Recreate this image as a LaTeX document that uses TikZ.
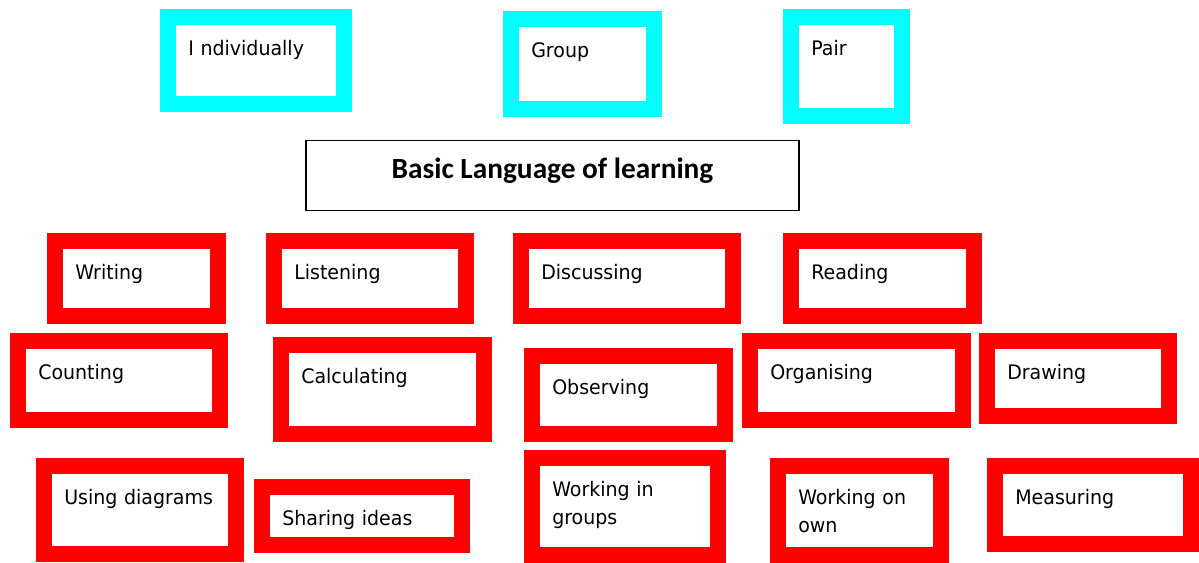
\documentclass[tikz,border=0pt]{standalone}
\usepackage{fontspec}
\setmainfont{DejaVu Sans}[FakeStretch=0.95]
\newfontfamily\titlefont{Carlito}
\usepackage{tikz}
\usetikzlibrary{positioning}
\definecolor{tilered}{RGB}{255,0,0}
\definecolor{tilecyan}{RGB}{0,255,255}
\newlength\px
\setlength\px{0.75pt}

\begin{document}
\begin{tikzpicture}[x=1\px, y=-1\px,
    tile/.style={anchor=north west, line width=16\px, inner sep=0pt},
    redtile/.style={tile, draw=tilered},
    cyantile/.style={tile, draw=tilecyan},
    word/.style={inner sep=0pt, align=left, text width=160\px, text height=11pt,
                 font=\fontsize{15}{21}\selectfont},
    titlebox/.style={draw, line width=1.5\px, minimum width=493\px,
                     minimum height=70\px, text height=12pt, text depth=8pt,
                     font=\titlefont\bfseries\fontsize{22}{26}\selectfont},
]
    \path[use as bounding box, fill=white] (0,0) rectangle (1199,563);

    % ways of working
    \node[cyantile, minimum width=176\px, minimum height=87\px] (individually) at (160,9) {};
    \node[word, below right=32\px and 28\px of individually.north west] (individually text) {I ndividually};
    \node[cyantile, minimum width=143\px, minimum height=90\px] (group) at (503,11) {};
    \node[word, below right=32\px and 28\px of group.north west] (group text) {Group};
    \node[cyantile, minimum width=111\px, minimum height=99\px] (pair) at (783,9) {};
    \node[word, below right=32\px and 28\px of pair.north west] (pair text) {Pair};

    \node[titlebox] (title) at (552.5,175.5) {Basic Language of learning};

    % first row
    \node[redtile, minimum width=163\px, minimum height=75\px] (writing) at (47,233) {};
    \node[word, below right=32\px and 28\px of writing.north west] (writing text) {Writing};
    \node[redtile, minimum width=192\px, minimum height=75\px] (listening) at (266,233) {};
    \node[word, below right=32\px and 28\px of listening.north west] (listening text) {Listening};
    \node[redtile, minimum width=212\px, minimum height=75\px] (discussing) at (513,233) {};
    \node[word, below right=32\px and 28\px of discussing.north west] (discussing text) {Discussing};
    \node[redtile, minimum width=183\px, minimum height=75\px] (reading) at (783,233) {};
    \node[word, below right=32\px and 28\px of reading.north west] (reading text) {Reading};

    % second row
    \node[redtile, minimum width=202\px, minimum height=79\px] (counting) at (10,333) {};
    \node[word, below right=32\px and 28\px of counting.north west] (counting text) {Counting};
    \node[redtile, minimum width=203\px, minimum height=89\px] (calculating) at (273,337) {};
    \node[word, below right=32\px and 28\px of calculating.north west] (calculating text) {Calculating};
    \node[redtile, minimum width=193\px, minimum height=78\px] (observing) at (524,348) {};
    \node[word, below right=32\px and 28\px of observing.north west] (observing text) {Observing};
    \node[redtile, minimum width=213\px, minimum height=79\px] (organising) at (742,333) {};
    \node[word, below right=32\px and 28\px of organising.north west] (organising text) {Organising};
    \node[redtile, minimum width=182\px, minimum height=75\px] (drawing) at (979,333) {};
    \node[word, below right=32\px and 28\px of drawing.north west] (drawing text) {Drawing};

    % third row
    \node[redtile, minimum width=192\px, minimum height=88\px] (diagrams) at (36,458) {};
    \node[word, below right=32\px and 28\px of diagrams.north west] (diagrams text) {Using diagrams};
    \node[redtile, minimum width=200\px, minimum height=58\px] (sharing) at (254,479) {};
    \node[word, below right=32\px and 28\px of sharing.north west] (sharing text) {Sharing ideas};
    \node[redtile, minimum width=186\px, minimum height=97\px] (groups) at (524,450) {};
    \node[word, below right=32\px and 28\px of groups.north west] (groups text) {Working in\\groups};
    \node[redtile, minimum width=163\px, minimum height=89\px] (own) at (770,458) {};
    \node[word, below right=32\px and 28\px of own.north west] (own text) {Working on\\own};
    \node[redtile, minimum width=196\px, minimum height=78\px] (measuring) at (987,458) {};
    \node[word, below right=32\px and 28\px of measuring.north west] (measuring text) {Measuring};
\end{tikzpicture}
\end{document}
